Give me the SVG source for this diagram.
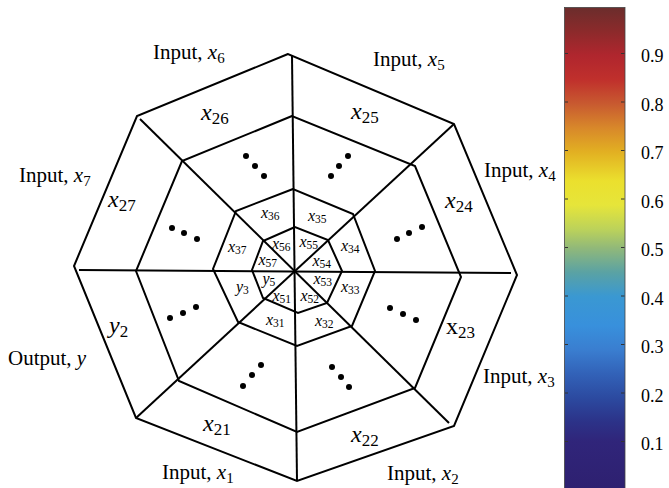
<svg xmlns="http://www.w3.org/2000/svg" width="669" height="488" viewBox="0 0 669 488">
<defs>
<linearGradient id="cmap" x1="0" y1="0" x2="0" y2="1">
<stop offset="0" stop-color="#6b2d2c"/>
<stop offset="0.05" stop-color="#8c2a2b"/>
<stop offset="0.1" stop-color="#b0262e"/>
<stop offset="0.15" stop-color="#c0302c"/>
<stop offset="0.2" stop-color="#c85a30"/>
<stop offset="0.25" stop-color="#d8882a"/>
<stop offset="0.3" stop-color="#e2b022"/>
<stop offset="0.36" stop-color="#ebe02e"/>
<stop offset="0.41" stop-color="#e6e53a"/>
<stop offset="0.46" stop-color="#bcd25a"/>
<stop offset="0.5" stop-color="#90b87a"/>
<stop offset="0.55" stop-color="#5aa2a4"/>
<stop offset="0.6" stop-color="#3a98d2"/>
<stop offset="0.66" stop-color="#3890dc"/>
<stop offset="0.71" stop-color="#3a7ed0"/>
<stop offset="0.76" stop-color="#3262b8"/>
<stop offset="0.81" stop-color="#2c4aa0"/>
<stop offset="0.86" stop-color="#2c3288"/>
<stop offset="0.9" stop-color="#30257a"/>
<stop offset="1" stop-color="#2e2070"/>
</linearGradient>
</defs>
<style>
.ring{fill:none;stroke:#000;stroke-width:2;stroke-linejoin:miter}
.spoke{stroke:#000;stroke-width:2;fill:none}
text{font-family:"Liberation Serif","Times New Roman",serif;fill:#000}
.io{font-size:21px}
.c2{font-size:24px}
.c3{font-size:16px}
.it{font-style:italic}
.dot{fill:#000}
.tick{stroke:#333;stroke-width:1}
.tl{font-size:18px}
</style>
<rect width="669" height="488" fill="#fff"/>

<g id="ring-outer"><polygon class="ring" points="288,54 137,116 74,266 136,418 297,481 454,426 517,275 454,124"/></g>
<g id="ring-2"><polygon class="ring" points="292,116 182,161 136,271 179,381 297,432 415,388 461,277 415,166"/></g>
<g id="ring-3"><polygon class="ring" points="293,189 236,211 213,269 238,322 297,346 352,326 375,271 353,214"/></g>
<g id="ring-4"><polygon class="ring" points="295,227 263,241 252,270 263,298 298,313 327,303 342,271 328,240"/></g>

<g id="connectors">
<line class="spoke" x1="292" y1="56" x2="297" y2="481"/>
<line class="spoke" x1="79" y1="270" x2="511" y2="273"/>
<line class="spoke" x1="140" y1="119" x2="449" y2="423"/>
<line class="spoke" x1="454" y1="124" x2="136" y2="418"/>
</g>

<g id="io-labels" class="io">
<text x="153" y="59">Input, <tspan class="it">x</tspan><tspan font-size="15" dy="4">6</tspan></text>
<text x="373" y="66">Input, <tspan class="it">x</tspan><tspan font-size="15" dy="4">5</tspan></text>
<text x="484" y="177">Input, <tspan class="it">x</tspan><tspan font-size="15" dy="4">4</tspan></text>
<text x="19" y="182">Input, <tspan class="it">x</tspan><tspan font-size="15" dy="4">7</tspan></text>
<text x="8" y="365">Output, <tspan class="it">y</tspan></text>
<text x="162" y="479">Input, <tspan class="it">x</tspan><tspan font-size="15" dy="4">1</tspan></text>
<text x="387" y="480">Input, <tspan class="it">x</tspan><tspan font-size="15" dy="4">2</tspan></text>
<text x="483" y="383">Input, <tspan class="it">x</tspan><tspan font-size="15" dy="4">3</tspan></text>
</g>

<g id="ring2-labels" class="c2">
<text x="201" y="120"><tspan class="it">x</tspan><tspan font-size="17" dy="4">26</tspan></text>
<text x="351" y="119"><tspan class="it">x</tspan><tspan font-size="17" dy="4">25</tspan></text>
<text x="445" y="208"><tspan class="it">x</tspan><tspan font-size="17" dy="4">24</tspan></text>
<text x="108" y="207"><tspan class="it">x</tspan><tspan font-size="17" dy="4">27</tspan></text>
<text x="109" y="333"><tspan class="it">y</tspan><tspan font-size="17" dy="4">2</tspan></text>
<text x="203" y="431"><tspan class="it">x</tspan><tspan font-size="17" dy="4">21</tspan></text>
<text x="351" y="442"><tspan class="it">x</tspan><tspan font-size="17" dy="4">22</tspan></text>
<text x="446" y="334">x<tspan font-size="17" dy="4">23</tspan></text>
</g>

<g id="ring2-dots" class="dot">
<circle cx="246" cy="156" r="3"/><circle cx="255" cy="166" r="3"/><circle cx="264" cy="176" r="3"/>
<circle cx="348" cy="156" r="3"/><circle cx="339" cy="166" r="3"/><circle cx="331" cy="176" r="3"/>
<circle cx="172" cy="228" r="3"/><circle cx="184" cy="233" r="3"/><circle cx="197" cy="239" r="3"/>
<circle cx="397" cy="239" r="3"/><circle cx="409" cy="233" r="3"/><circle cx="422" cy="227" r="3"/>
<circle cx="170" cy="318" r="3"/><circle cx="183" cy="313" r="3"/><circle cx="196" cy="307" r="3"/>
<circle cx="390" cy="308" r="3"/><circle cx="403" cy="314" r="3"/><circle cx="416" cy="320" r="3"/>
<circle cx="243" cy="386" r="3"/><circle cx="252" cy="375" r="3"/><circle cx="261" cy="365" r="3"/>
<circle cx="332" cy="367" r="3"/><circle cx="341" cy="377" r="3"/><circle cx="349" cy="387" r="3"/>
</g>

<g id="ring3-labels" class="c3">
<text x="261" y="218"><tspan class="it">x</tspan><tspan font-size="11.5" dy="2">36</tspan></text>
<text x="308" y="221"><tspan class="it">x</tspan><tspan font-size="11.5" dy="2">35</tspan></text>
<text x="341" y="251"><tspan class="it">x</tspan><tspan font-size="11.5" dy="2">34</tspan></text>
<text x="228" y="252"><tspan class="it">x</tspan><tspan font-size="11.5" dy="2">37</tspan></text>
<text x="341" y="292"><tspan class="it">x</tspan><tspan font-size="11.5" dy="2">33</tspan></text>
<text x="236" y="292"><tspan class="it">y</tspan><tspan font-size="11.5" dy="2">3</tspan></text>
<text x="266" y="325"><tspan class="it">x</tspan><tspan font-size="11.5" dy="2">31</tspan></text>
<text x="315" y="326"><tspan class="it">x</tspan><tspan font-size="11.5" dy="2">32</tspan></text>
</g>

<g id="ring4-labels" class="c3">
<text x="272" y="249"><tspan class="it">x</tspan><tspan font-size="11.5" dy="2">56</tspan></text>
<text x="299.5" y="247"><tspan class="it">x</tspan><tspan font-size="11.5" dy="2">55</tspan></text>
<text x="258.5" y="265"><tspan class="it">x</tspan><tspan font-size="11.5" dy="2">57</tspan></text>
<text x="312.5" y="266"><tspan class="it">x</tspan><tspan font-size="11.5" dy="2">54</tspan></text>
<text x="262.5" y="284"><tspan class="it">y</tspan><tspan font-size="11.5" dy="2">5</tspan></text>
<text x="313.5" y="284"><tspan class="it">x</tspan><tspan font-size="11.5" dy="2">53</tspan></text>
<text x="272.5" y="301"><tspan class="it">x</tspan><tspan font-size="11.5" dy="2">51</tspan></text>
<text x="300.5" y="301"><tspan class="it">x</tspan><tspan font-size="11.5" dy="2">52</tspan></text>
</g>

<g id="colorbar">
<rect x="564.5" y="7.5" width="60.5" height="482" fill="url(#cmap)" stroke="#444" stroke-width="0.8"/>
<g class="tick">
<line x1="565" y1="53.5" x2="568" y2="53.5"/><line x1="621" y1="53.5" x2="624.5" y2="53.5"/>
<line x1="565" y1="102" x2="568" y2="102"/><line x1="621" y1="102" x2="624.5" y2="102"/>
<line x1="565" y1="150.5" x2="568" y2="150.5"/><line x1="621" y1="150.5" x2="624.5" y2="150.5"/>
<line x1="565" y1="199" x2="568" y2="199"/><line x1="621" y1="199" x2="624.5" y2="199"/>
<line x1="565" y1="247.5" x2="568" y2="247.5"/><line x1="621" y1="247.5" x2="624.5" y2="247.5"/>
<line x1="565" y1="296" x2="568" y2="296"/><line x1="621" y1="296" x2="624.5" y2="296"/>
<line x1="565" y1="344.5" x2="568" y2="344.5"/><line x1="621" y1="344.5" x2="624.5" y2="344.5"/>
<line x1="565" y1="393" x2="568" y2="393"/><line x1="621" y1="393" x2="624.5" y2="393"/>
<line x1="565" y1="441.5" x2="568" y2="441.5"/><line x1="621" y1="441.5" x2="624.5" y2="441.5"/>
</g>
<g class="tl">
<text x="641" y="62">0.9</text>
<text x="641" y="110.5">0.8</text>
<text x="641" y="159">0.7</text>
<text x="641" y="207.5">0.6</text>
<text x="641" y="256">0.5</text>
<text x="641" y="304.5">0.4</text>
<text x="641" y="353">0.3</text>
<text x="641" y="401.5">0.2</text>
<text x="641" y="450">0.1</text>
</g>
</g>
</svg>
